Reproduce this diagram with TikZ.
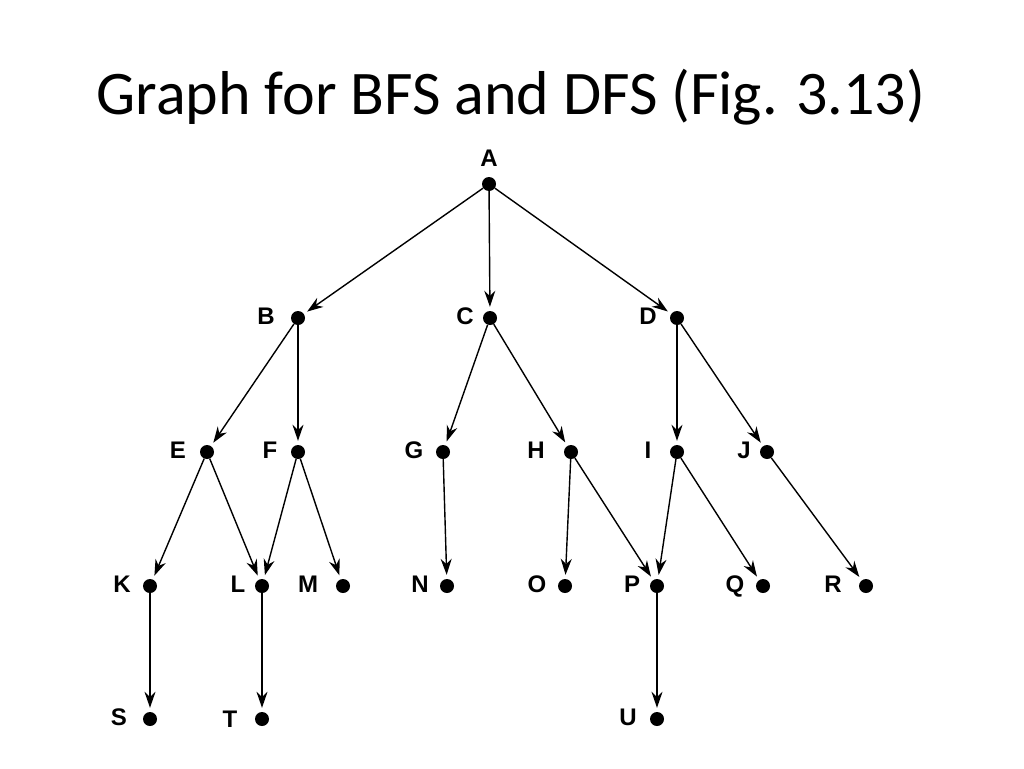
\documentclass[tikz,border=0pt]{standalone}
\usepackage{fontspec}
\setmainfont{Carlito}
\newfontfamily\lab{Liberation Sans Bold}
\usetikzlibrary{arrows.meta}
\begin{document}
\begin{tikzpicture}[x=1pt,y=-1pt,
  dot/.style={circle,fill=black,inner sep=0pt,minimum size=14pt},
  lbl/.style={font=\lab\fontsize{24}{24}\selectfont,inner sep=0pt,text height=17pt,text depth=0pt},
  edge/.style={-{Stealth[length=16pt,width=11pt]},line width=1.4pt,shorten >=4pt}]
\useasboundingbox (0,0) rectangle (1024,768);
\node at (511,97) {\fontsize{62}{62}\selectfont Graph for BFS and DFS (Fig. 3.13)};
\foreach \n/\x/\y/\lx/\ly in {A/489/184/489/158,B/298/318/266/316,C/490/318/465/316,D/677/318/648/316,
E/207/452/178/450,F/298/452/270/450,G/443/452/414/450,H/571/452/536/450,I/677/452/648/450,J/767/452/744/450,
K/150/586/122/584,L/262/586/238/584,M/343/586/308/584,N/447/586/420/584,O/565/586/537/584,P/657/586/632/584,Q/763/586/735/584,R/866/586/833/584,
S/150/719/119/717,T/262/719/230/719,U/657/719/628/717}{
  \node[dot] (\n) at (\x,\y) {};
  \node[lbl] (l\n) at (\lx,\ly) {\n};
}
\foreach \a/\b in {A/B,A/C,A/D,B/E,B/F,C/G,C/H,D/I,D/J,E/K,E/L,F/L,F/M,G/N,H/O,H/P,I/P,I/Q,J/R,K/S,L/T,P/U}
  \draw[edge] (\a) -- (\b);
\end{tikzpicture}
\end{document}
